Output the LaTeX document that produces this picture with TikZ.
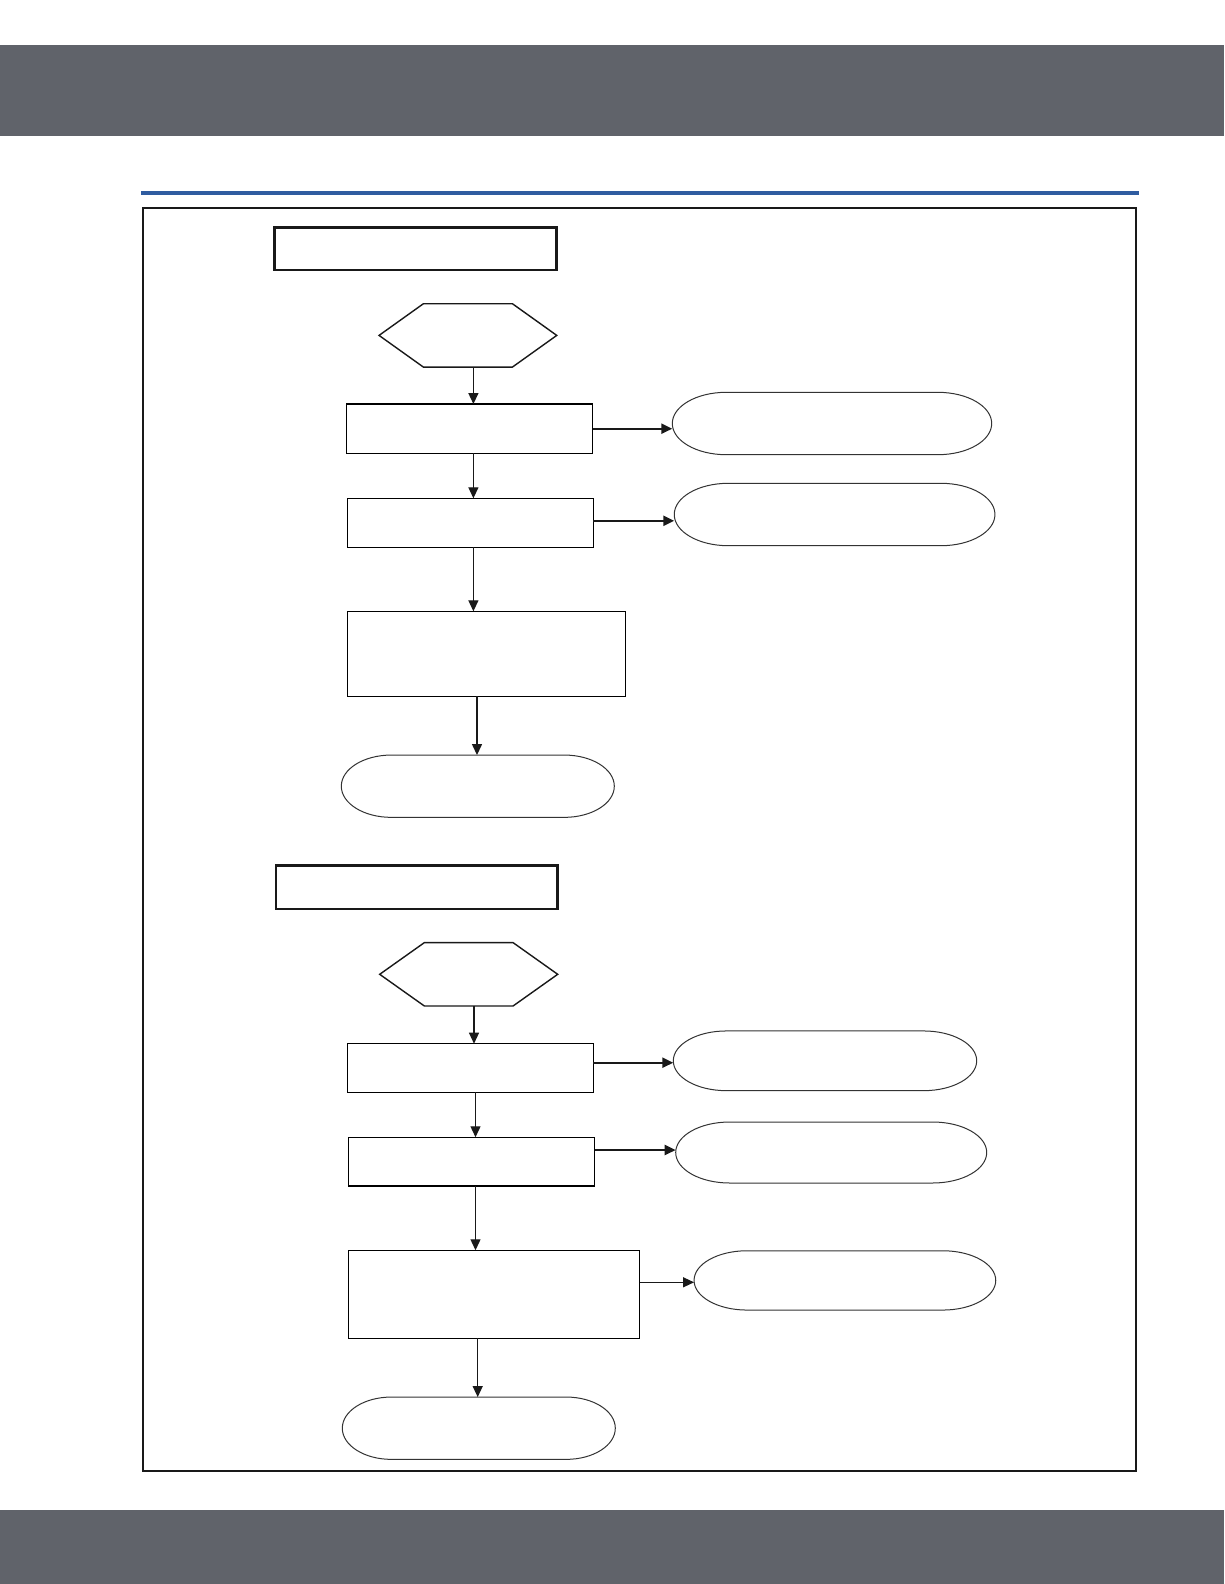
\documentclass[tikz,border=0pt]{standalone}
\usetikzlibrary{arrows.meta}
\definecolor{bandgray}{RGB}{96,99,106}
\definecolor{ruleblue}{RGB}{47,92,160}
\tikzset{
  base/.style={rectangle, inner sep=0pt, outer sep=0pt, draw=none},
  stepbox/.style={base, draw=black, line width=1.3pt},
  titlebox/.style={base, draw=black!90, line width=2.4pt},
  ovalline/.style={draw=black!80, line width=1pt},
  hexline/.style={draw=black!90, line width=1.4pt},
  varr/.style={draw=black!90, line width=1.3pt, -{Triangle[length=11pt,width=10pt]}},
  harr/.style={draw=black!90, line width=2.2pt, -{Triangle[length=11pt,width=10pt]}},
  harrthin/.style={draw=black!90, line width=1.3pt, -{Triangle[length=11pt,width=10pt]}}
}
\newcommand\capsule[6]{%
  \node[base, minimum width=#4pt, minimum height=#5pt] (#1) at (#2,#3) {};
  \draw[ovalline] ([xshift=#6pt]#1.north west) -- ([xshift=-#6pt]#1.north east)
    arc[start angle=90, end angle=-90, x radius=#6pt, y radius=#5pt/2]
    -- ([xshift=#6pt]#1.south west)
    arc[start angle=270, end angle=90, x radius=#6pt, y radius=#5pt/2] -- cycle;}
\newcommand\hexat[6]{%
  \node[base, minimum width=#4pt, minimum height=#5pt] (#1) at (#2,#3) {};
  \draw[hexline] (#1.west) -- ([xshift=#6pt]#1.north west) -- ([xshift=-#6pt]#1.north east)
    -- (#1.east) -- ([xshift=-#6pt]#1.south east) -- ([xshift=#6pt]#1.south west) -- cycle;}
\begin{document}
\begin{tikzpicture}[x=1pt,y=-1pt]
\useasboundingbox (0,0) rectangle (1224,1584);
\fill[white] (0,0) rectangle (1224,1584);
% bands
\fill[bandgray] (0,45) rectangle (1224,136);
\fill[bandgray] (0,1510) rectangle (1224,1584);
\fill[ruleblue] (141,191) rectangle (1139,195);
% frame
\draw[black!90, line width=2.4pt] (143,207.7) rectangle (1135.7,1471);

% ---------- upper flow ----------
\node[titlebox, minimum width=282pt, minimum height=42.3pt] (t1) at (415.3,248.8) {};
\hexat{h1}{467.9}{335.4}{177.7}{63.3}{44.3}
\node[stepbox, minimum width=246.4pt, minimum height=49.3pt] (b1) at (469.5,428.7) {};
\node[stepbox, minimum width=245.9pt, minimum height=49pt] (b2) at (470.3,522.8) {};
\node[stepbox, minimum width=278.4pt, minimum height=85pt] (b3) at (486.5,653.8) {};
\capsule{o1}{832}{423.5}{319.4}{62.4}{54}
\capsule{o2}{834.6}{514.5}{320.7}{62.4}{54}
\capsule{o3}{477.8}{786.2}{273}{62.3}{50}

\coordinate (xa) at (473.4,0);
\coordinate (xb) at (477,0);
\draw[varr] (h1.south -| xa) -- (b1.north -| xa);
\draw[varr] (b1.south -| xa) -- (b2.north -| xa);
\draw[varr] (b2.south -| xa) -- (b3.north -| xa);
\draw[varr] (b3.south -| xb) -- (o3.north -| xb);
\draw[harr] (b1.east) -- (b1.east -| o1.west);
\draw[harr] ([yshift=2pt]b2.east) -- ([yshift=2pt]b2.east -| o2.west);

% ---------- lower flow ----------
\node[titlebox, minimum width=281.6pt, minimum height=43.3pt] (t2) at (416.5,887.3) {};
\hexat{h2}{468.7}{974.3}{178}{63.3}{44.6}
\node[stepbox, minimum width=246pt, minimum height=48.6pt] (b4) at (470.3,1068) {};
\node[stepbox, minimum width=246.3pt, minimum height=48.7pt] (b5) at (471.5,1161.6) {};
\node[stepbox, minimum width=291.2pt, minimum height=87.9pt] (b6) at (493.9,1294.2) {};
\capsule{o4}{825}{1060.8}{303.4}{59.7}{53}
\capsule{o5}{831.2}{1152.5}{311}{61}{54}
\capsule{o6}{478.8}{1428.2}{273}{62.3}{49}
\capsule{o7}{844.9}{1280.4}{301.7}{59.3}{53}

\coordinate (xc) at (474,0);
\coordinate (xd) at (475.5,0);
\coordinate (xe) at (477.7,0);
\draw[varr] (h2.south -| xc) -- (b4.north -| xc);
\draw[varr] (b4.south -| xd) -- (b5.north -| xd);
\draw[varr] (b5.south -| xd) -- (b6.north -| xd);
\draw[varr] (b6.south -| xe) -- (o6.north -| xe);
\draw[harr] ([yshift=5.3pt]b4.east) -- ([yshift=5.3pt]b4.east -| o4.west);
\draw[harr] ([yshift=11.6pt]b5.east) -- ([yshift=11.6pt]b5.east -| o5.west);
\draw[harrthin] ([yshift=11.9pt]b6.east) -- ([yshift=11.9pt]b6.east -| o7.west);
\end{tikzpicture}
\end{document}
